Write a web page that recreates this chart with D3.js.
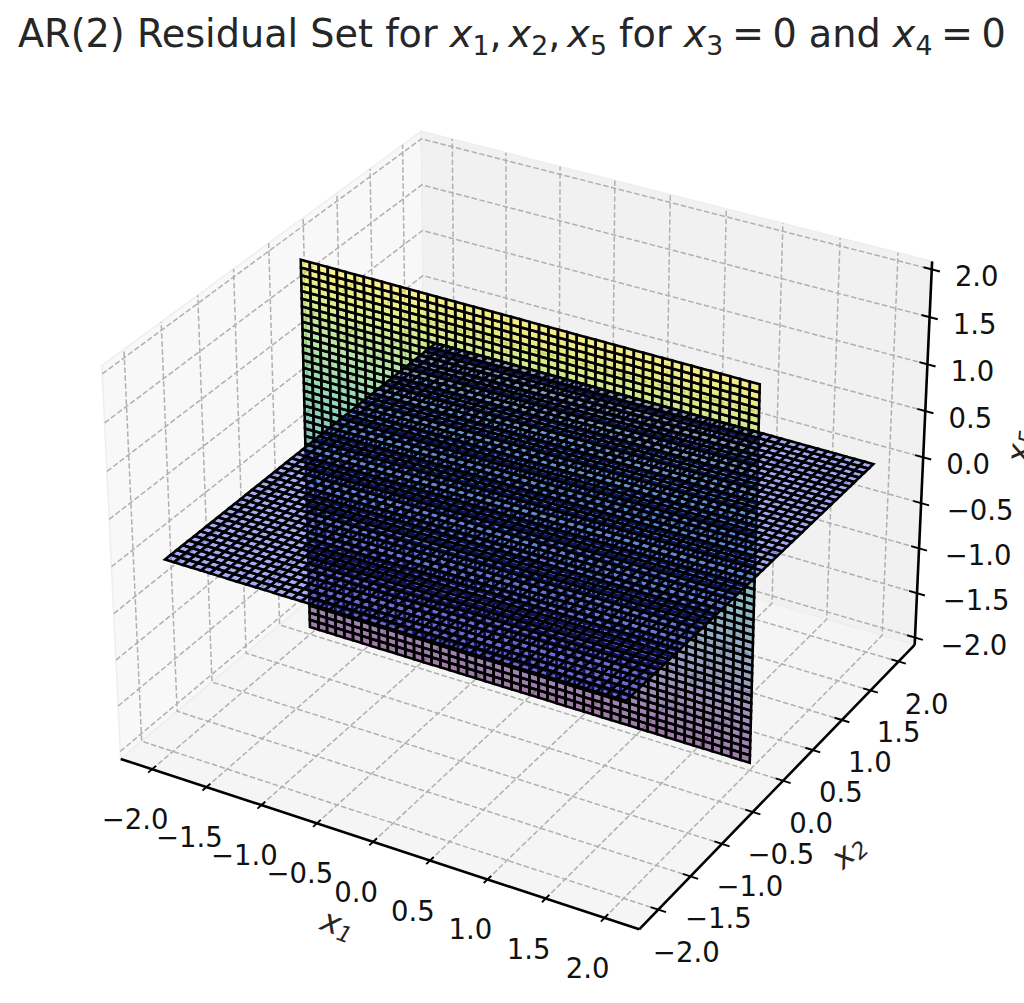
<!DOCTYPE html>
<html>
<head>
    <meta charset="utf-8">
    <title>AR(2) Residual Set</title>
    <script src="https://d3js.org/d3.v7.min.js"></script>
    <style>
        html, body { margin: 0; padding: 0; background: white; }
        svg { display: block; }
        text { font-family: "DejaVu Sans", sans-serif; fill: #262626; }
        .tick-label { font-size: 27.5px; text-anchor: middle; dominant-baseline: central; fill: #111; }
    </style>
</head>
<body>
<script>
    // values
    const ticks = [-2, -1.5, -1, -0.5, 0, 0.5, 1, 1.5, 2];
    const tickLabels = ["\u22122.0", "\u22121.5", "\u22121.0", "\u22120.5", "0.0", "0.5", "1.0", "1.5", "2.0"];
    const gridLevels = [-2, -1.918, -1.837, -1.755, -1.673, -1.592, -1.51, -1.429, -1.347, -1.265,
        -1.184, -1.102, -1.02, -0.939, -0.857, -0.776, -0.694, -0.612, -0.531, -0.449,
        -0.367, -0.286, -0.204, -0.122, -0.041, 0.041, 0.122, 0.204, 0.286, 0.367,
        0.449, 0.531, 0.612, 0.694, 0.776, 0.857, 0.939, 1.02, 1.102, 1.184,
        1.265, 1.347, 1.429, 1.51, 1.592, 1.673, 1.755, 1.837, 1.918, 2];
    const x2Plane = 0;   // vertical sheet, x2 = 0
    const x5Plane = 0;   // flat sheet, x5 = 0

    const width = 1024, height = 1003;
    const lim = 2.2, zLim = 2.0;

    const svg = d3.select("body").append("svg")
        .attr("width", width)
        .attr("height", height);

    // 3d box, same camera as an mplot3d default view (elev 30, azim -60)
    const wx = d3.scaleLinear().domain([-lim, lim]).range([-0.5714, 0.5714]);
    const wz = d3.scaleLinear().domain([-zLim, zLim]).range([-0.4286, 0.4286]);
    const sx = d3.scaleLinear().domain([-0.1, 0.1]).range([525 - 499, 525 + 499]);
    const sy = d3.scaleLinear().domain([-0.1, 0.1]).range([511 + 502, 511 - 502]);

    function project(x, y, z) {
        let px = wx(x), py = wx(y), pz = wz(z);
        let xv = 0.866 * px + 0.5 * py;
        let yv = -0.25 * px + 0.433 * py + 0.866 * pz;
        let depth = 10 - (0.433 * px - 0.75 * py + 0.5 * pz);
        return [sx(xv / depth), sy(yv / depth)];
    }

    const line = d3.line();
    const L = lim * 25 / 24, Z = zLim * 25 / 24;

    // panes
    const panes = [
        {c: "#f8f8f8", pts: [[-L, -L, -Z], [-L, L, -Z], [-L, L, Z], [-L, -L, Z]]},
        {c: "#f1f1f1", pts: [[-L, L, -Z], [L, L, -Z], [L, L, Z], [-L, L, Z]]},
        {c: "#f5f5f5", pts: [[-L, -L, -Z], [L, -L, -Z], [L, L, -Z], [-L, L, -Z]]}
    ];
    svg.append("g").selectAll("path")
        .data(panes)
        .join("path")
        .attr("d", d => line(d.pts.map(p => project(...p))) + "Z")
        .attr("fill", d => d.c)
        .attr("stroke", "#eeeeee")
        .attr("stroke-width", 1.5);

    // dashed grid
    let gridLines = [];
    ticks.forEach(t => {
        gridLines.push([[t, -L, -Z], [t, L, -Z], [t, L, Z]]);
        gridLines.push([[L, t, -Z], [-L, t, -Z], [-L, t, Z]]);
        gridLines.push([[-L, -L, t], [-L, L, t], [L, L, t]]);
    });
    svg.append("g").selectAll("path")
        .data(gridLines)
        .join("path")
        .attr("d", d => line(d.map(p => project(...p))))
        .attr("fill", "none")
        .attr("stroke", "#b0b0b0")
        .attr("stroke-width", 1.5)
        .attr("stroke-dasharray", "5.5,2.5");

    // surfaces
    let cellsV = [], cellsH = [];
    d3.pairs(gridLevels).forEach(([a0, a1]) => {
        d3.pairs(gridLevels).forEach(([b0, b1]) => {
            cellsV.push({z: (b0 + b1) / 2, pts: [[a0, x2Plane, b0], [a1, x2Plane, b0], [a1, x2Plane, b1], [a0, x2Plane, b1]]});
            cellsH.push({pts: [[a0, b0, x5Plane], [a1, b0, x5Plane], [a1, b1, x5Plane], [a0, b1, x5Plane]]});
        });
    });
    const colorZ = d3.scaleSequential(d3.interpolateViridis).domain([-2, 2]);

    svg.append("g").selectAll("path")
        .data(cellsV)
        .join("path")
        .attr("d", d => line(d.pts.map(p => project(...p))) + "Z")
        .attr("fill", d => colorZ(d.z))
        .attr("fill-opacity", 0.5)
        .attr("stroke", "black")
        .attr("stroke-width", 2.6);

    svg.append("g").selectAll("path")
        .data(cellsH)
        .join("path")
        .attr("d", d => line(d.pts.map(p => project(...p))) + "Z")
        .attr("fill", "#2030e8")
        .attr("fill-opacity", 0.38)
        .attr("stroke", "black")
        .attr("stroke-width", 2.6);

    // axes
    const axes = [
        {from: [-L, -L, -Z], to: [L, -L, -Z], at: t => [t, -L, -Z], tickDir: [0, 0.055, 0], dx: -17, dy: 50, negDx: 0},
        {from: [L, -L, -Z], to: [L, L, -Z], at: t => [L, t, -Z], tickDir: [0.065, 0, 0], dx: 28, dy: 42, negDx: 0},
        {from: [L, L, -Z], to: [L, L, Z], at: t => [L, L, t], tickDir: [0.07, 0, 0], dx: 45, dy: 7, negDx: 14}
    ];
    axes.forEach(ax => {
        let g = svg.append("g");
        g.append("path")
            .attr("d", line([project(...ax.from), project(...ax.to)]))
            .attr("stroke", "black")
            .attr("stroke-width", 2.6);
        ticks.forEach((t, i) => {
            let p = ax.at(t);
            let a = project(p[0] - ax.tickDir[0], p[1] - ax.tickDir[1], p[2]);
            let b = project(p[0] + ax.tickDir[0], p[1] + ax.tickDir[1], p[2]);
            g.append("path")
                .attr("d", line([a, b]))
                .attr("stroke", "black")
                .attr("stroke-width", 1.9);
            let c = project(...p);
            g.append("text")
                .attr("class", "tick-label")
                .attr("x", c[0] + ax.dx + (t < 0 ? ax.negDx : 0))
                .attr("y", c[1] + ax.dy)
                .text(tickLabels[i]);
        });
    });

    // math-style labels: [text, is subscript, is italic, back to baseline, dx]
    function mathText(sel, parts, size) {
        parts.forEach(p => {
            sel.append("tspan")
                .attr("font-style", p[2] ? "italic" : "normal")
                .attr("font-size", p[1] ? size * 0.7 : size)
                .attr("dy", p[1] ? size * 0.22 : (p[3] ? -size * 0.22 : 0))
                .attr("dx", p[4] || 0)
                .text(p[0]);
        });
    }

    function axisLabel(name, sub, x, y, rot) {
        let t = svg.append("text")
            .attr("transform", `translate(${x},${y}) rotate(${rot})`)
            .attr("text-anchor", "middle")
            .attr("dominant-baseline", "central");
        mathText(t, [[name, false, true], [sub, true, true]], 32);
    }
    axisLabel("x", "1", 338, 924, 20);
    axisLabel("x", "2", 848, 851, -42);
    axisLabel("x", "5", 1019, 446, -85);

    let title = svg.append("text")
        .attr("x", 18)
        .attr("y", 47)
        .attr("xml:space", "preserve");
    mathText(title, [
        ["AR(2) Residual Set for ", false, false],
        ["x", false, true], ["1", true, false], [",", false, false, true],
        ["x", false, true, false, 7], ["2", true, false], [",", false, false, true],
        ["x", false, true, false, 7], ["5", true, false],
        [" for ", false, false, true],
        ["x", false, true], ["3", true, false],
        ["=", false, false, true, 8.5], ["0", false, false, false, 8.5],
        [" and ", false, false],
        ["x", false, true], ["4", true, false],
        ["=", false, false, true, 8.5], ["0", false, false, false, 8.5]
    ], 38.2);
</script>
</body>
</html>
